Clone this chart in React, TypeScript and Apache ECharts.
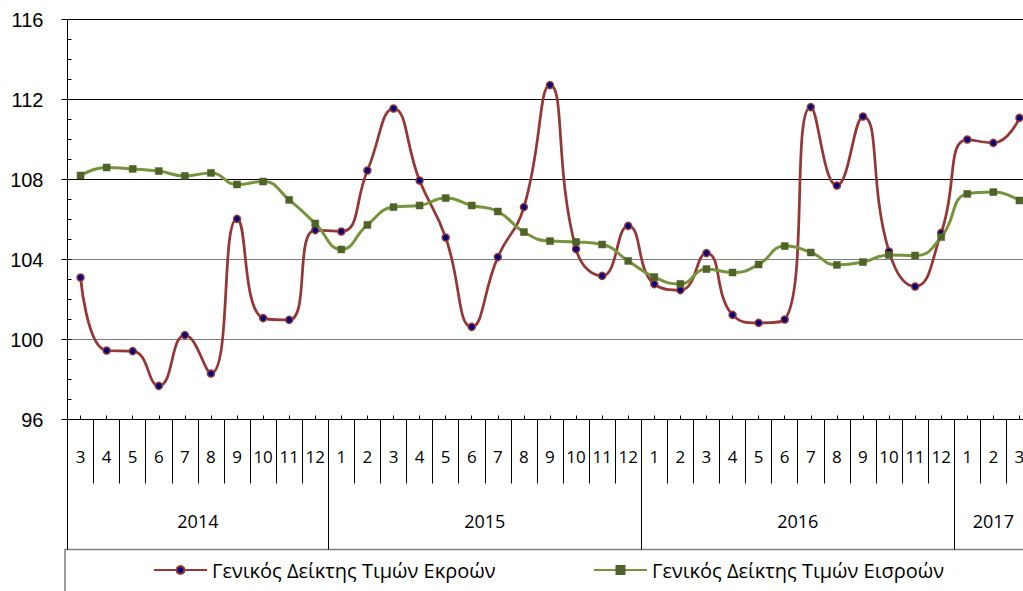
import React, { useEffect, useRef } from "react";
import * as echarts from "echarts";

const months = [3, 4, 5, 6, 7, 8, 9, 10, 11, 12, 1, 2, 3, 4, 5, 6, 7, 8, 9, 10, 11, 12, 1, 2, 3, 4, 5, 6, 7, 8, 9, 10, 11, 12, 1, 2, 3];
const years = ["2014", "2015", "2016", "2017"];
const yTicks = [96, 100, 104, 108, 112, 116];

const outputName = "Γενικός Δείκτης Τιμών Εκροών";
const inputName = "Γενικός Δείκτης Τιμών Εισροών";

const outputIndex = [
  103.1, 99.45, 99.42, 97.68, 100.22, 98.3, 106.03, 101.07, 100.98, 105.47,
  105.4, 108.45, 111.55, 107.95, 105.1, 100.63, 104.12, 106.62, 112.72, 104.52, 103.18, 105.68,
  102.77, 102.47, 104.32, 101.23, 100.83, 101.0, 111.62, 107.7, 111.15, 104.4, 102.65, 105.33,
  110.0, 109.83, 111.08,
];
const inputIndex = [
  108.2, 108.6, 108.53, 108.42, 108.18, 108.33, 107.75, 107.9, 106.98, 105.8,
  104.5, 105.73, 106.62, 106.7, 107.07, 106.7, 106.4, 105.37, 104.92, 104.88, 104.75, 103.93,
  103.12, 102.78, 103.52, 103.35, 103.75, 104.67, 104.35, 103.73, 103.87, 104.23, 104.2, 105.12,
  107.28, 107.37, 106.95,
];

const FONT = "'Open Sans', 'Noto Sans', sans-serif";

export default function App() {
  const ref = useRef<HTMLDivElement>(null);
  useEffect(() => {
    if (!ref.current) return;
    const chart = echarts.init(ref.current, null, { renderer: "svg" });

    const n = months.length;
    const yearStarts: number[] = [0];
    months.forEach((m, i) => {
      if (i > 0 && m === 1) yearStarts.push(i);
    });
    const yearEnds = yearStarts.slice(1).concat([n]);
    const yearCenters = yearStarts.map((s, i) => (s + yearEnds[i]) / 2);
    const boundaries = Array.from({ length: n + 1 }, (_, i) => i);

    const cat = months.map((m, i) => `${i}-${m}`);
    const gridW = 26.08 * n;

    const legendBase = {
      top: 560,
      padding: 0,
      itemWidth: 53,
      itemHeight: 10,
      itemGap: 5,
      textStyle: { color: "#000", fontFamily: FONT, fontSize: 20 },
    };

    chart.setOption({
      animation: false,
      grid: { left: 67.5, top: 19.5, width: gridW, height: 400, containLabel: false },
      xAxis: [
        {
          type: "category",
          data: cat,
          position: "bottom",
          boundaryGap: true,
          axisLine: { show: true, lineStyle: { color: "#000", width: 1 } },
          axisTick: { show: true, alignWithLabel: true, inside: true, length: 4, lineStyle: { color: "#000" } },
          axisLabel: {
            interval: 0,
            margin: 28,
            color: "#000",
            fontFamily: FONT,
            fontSize: 17,
            formatter: (v: string) => v.split("-")[1],
          },
          splitLine: { show: false },
        },
        {
          type: "value",
          min: 0,
          max: n,
          position: "bottom",
          axisLine: { show: false },
          axisTick: { show: true, customValues: boundaries, length: 64, lineStyle: { color: "#000" } },
          axisLabel: { show: false },
          splitLine: { show: false },
        },
        {
          type: "value",
          min: 0,
          max: n,
          position: "bottom",
          axisLine: { show: false },
          axisTick: { show: true, customValues: yearStarts, length: 130, lineStyle: { color: "#000" } },
          axisLabel: {
            show: true,
            customValues: yearCenters,
            margin: 92,
            color: "#000",
            fontFamily: FONT,
            fontSize: 18,
            formatter: (v: number) => {
              const idx = yearCenters.findIndex((c) => Math.abs(c - v) < 0.01);
              return idx >= 0 ? years[idx] : "";
            },
          },
          splitLine: { show: false },
        },
      ],
      yAxis: [
        {
          type: "value",
          min: yTicks[0],
          max: yTicks[yTicks.length - 1],
          interval: 4,
          axisLine: { show: true, lineStyle: { color: "#000" } },
          axisTick: { show: true, length: 6, lineStyle: { color: "#000" } },
          axisLabel: {
            margin: 24,
            color: "#000",
            fontFamily: "'Liberation Sans', Arial, sans-serif",
            fontSize: 20,
          },
          splitLine: {
            show: true,
            lineStyle: { color: ["#000", "#7f7f7f", "#7f7f7f", "#000", "#000", "#000"], width: 1 },
          },
        },
        {
          type: "value",
          min: yTicks[0],
          max: yTicks[yTicks.length - 1],
          interval: 1,
          position: "left",
          axisLine: { show: false },
          axisTick: { show: true, inside: true, length: 4, lineStyle: { color: "#000" } },
          axisLabel: { show: false },
          splitLine: { show: false },
        },
      ],
      legend: [
        { ...legendBase, data: [outputName], left: 153 },
        { ...legendBase, data: [inputName], left: 593 },
      ],
      graphic: [
        {
          type: "rect",
          shape: { x: 65, y: 549.5, width: 1000, height: 80 },
          style: { fill: "none", stroke: "#7f7f7f", lineWidth: 1.5 },
          silent: true,
        },
      ],
      series: [
        {
          name: outputName,
          type: "line",
          data: outputIndex,
          smooth: 0.5,
          symbol: "circle",
          symbolSize: 7,
          lineStyle: { color: "#953735", width: 2.75 },
          itemStyle: { color: "#000080", borderColor: "#953735", borderWidth: 1.5 },
          z: 3,
        },
        {
          name: inputName,
          type: "line",
          data: inputIndex,
          smooth: 0.5,
          symbol: "rect",
          symbolSize: 7,
          lineStyle: { color: "#77933C", width: 3 },
          itemStyle: { color: "#4F6228", borderColor: "#4F6228", borderWidth: 0.5 },
          z: 4,
        },
      ],
    });
    return () => chart.dispose();
  }, []);

  return (
    <div
      ref={ref}
      style={{ position: "fixed", left: 0, top: 0, width: 1045, height: 591, background: "#fff" }}
    />
  );
}
